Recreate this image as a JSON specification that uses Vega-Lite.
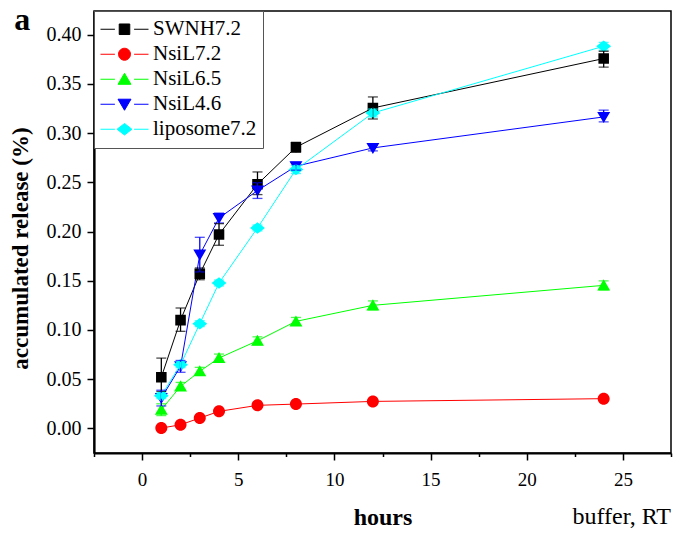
{
  "$schema": "https://vega.github.io/schema/vega-lite/v6.json",
  "width": 577,
  "height": 442,
  "padding": {"top": 3, "left": 9, "right": 4, "bottom": 5},
  "background": "white",
  "config": {
    "font": "Liberation Serif",
    "view": {"stroke": "black", "strokeWidth": 1.5},
    "axis": {"grid": false, "domainColor": "black", "domainWidth": 2.2, "tickColor": "black", "tickWidth": 1.5, "labelColor": "black", "titleColor": "black", "labelFont": "Liberation Serif", "titleFont": "Liberation Serif", "labelFontSize": 19, "titleFontSize": 24, "titleFontWeight": "bold", "labelOverlap": false, "labelFlush": false},
    "legend": {"labelFont": "Liberation Serif", "titleFont": "Liberation Serif", "symbolOpacity": 1}
  },
  "title": {"text": "buffer, RT", "orient": "bottom", "anchor": "end", "frame": "group", "offset": -24, "font": "Liberation Serif", "fontSize": 24, "fontWeight": "normal", "color": "black"},
  "datasets": {
    "release": [
      {"series": "SWNH7.2", "hours": 1, "value": 0.052, "lo": 0.0376, "hi": 0.0714},
      {"series": "SWNH7.2", "hours": 2, "value": 0.110, "lo": 0.0986, "hi": 0.1223},
      {"series": "SWNH7.2", "hours": 3, "value": 0.157, "lo": 0.151, "hi": 0.163},
      {"series": "SWNH7.2", "hours": 4, "value": 0.197, "lo": 0.186, "hi": 0.208},
      {"series": "SWNH7.2", "hours": 6, "value": 0.248, "lo": 0.2375, "hi": 0.2605},
      {"series": "SWNH7.2", "hours": 8, "value": 0.2856, "lo": 0.2806, "hi": 0.2906},
      {"series": "SWNH7.2", "hours": 12, "value": 0.3255, "lo": 0.3143, "hi": 0.3367},
      {"series": "SWNH7.2", "hours": 24, "value": 0.3757, "lo": 0.3669, "hi": 0.3831},
      {"series": "NsiL7.2", "hours": 1, "value": 0.0003, "lo": -0.0017, "hi": 0.0023},
      {"series": "NsiL7.2", "hours": 2, "value": 0.0037, "lo": 0.0017, "hi": 0.0057},
      {"series": "NsiL7.2", "hours": 3, "value": 0.0105, "lo": 0.0085, "hi": 0.0125},
      {"series": "NsiL7.2", "hours": 4, "value": 0.0173, "lo": 0.0153, "hi": 0.0193},
      {"series": "NsiL7.2", "hours": 6, "value": 0.0234, "lo": 0.0214, "hi": 0.0254},
      {"series": "NsiL7.2", "hours": 8, "value": 0.0247, "lo": 0.0227, "hi": 0.0267},
      {"series": "NsiL7.2", "hours": 12, "value": 0.0274, "lo": 0.0254, "hi": 0.0294},
      {"series": "NsiL7.2", "hours": 24, "value": 0.0302, "lo": 0.0282, "hi": 0.0322},
      {"series": "NsiL6.5", "hours": 1, "value": 0.019, "lo": 0.013, "hi": 0.025},
      {"series": "NsiL6.5", "hours": 2, "value": 0.0427, "lo": 0.0387, "hi": 0.0467},
      {"series": "NsiL6.5", "hours": 3, "value": 0.058, "lo": 0.054, "hi": 0.062},
      {"series": "NsiL6.5", "hours": 4, "value": 0.0715, "lo": 0.0675, "hi": 0.0755},
      {"series": "NsiL6.5", "hours": 6, "value": 0.089, "lo": 0.085, "hi": 0.093},
      {"series": "NsiL6.5", "hours": 8, "value": 0.1087, "lo": 0.1047, "hi": 0.1127},
      {"series": "NsiL6.5", "hours": 12, "value": 0.125, "lo": 0.1205, "hi": 0.1295},
      {"series": "NsiL6.5", "hours": 24, "value": 0.1453, "lo": 0.1408, "hi": 0.1498},
      {"series": "NsiL4.6", "hours": 1, "value": 0.0308, "lo": 0.0228, "hi": 0.0388},
      {"series": "NsiL4.6", "hours": 2, "value": 0.063, "lo": 0.057, "hi": 0.069},
      {"series": "NsiL4.6", "hours": 3, "value": 0.1765, "lo": 0.1589, "hi": 0.1941},
      {"series": "NsiL4.6", "hours": 4, "value": 0.2137, "lo": 0.2087, "hi": 0.2187},
      {"series": "NsiL4.6", "hours": 6, "value": 0.2416, "lo": 0.2336, "hi": 0.2496},
      {"series": "NsiL4.6", "hours": 8, "value": 0.2663, "lo": 0.2623, "hi": 0.2703},
      {"series": "NsiL4.6", "hours": 12, "value": 0.2849, "lo": 0.2819, "hi": 0.2879},
      {"series": "NsiL4.6", "hours": 24, "value": 0.3164, "lo": 0.3114, "hi": 0.3234},
      {"series": "liposome7.2", "hours": 1, "value": 0.0332, "lo": 0.0302, "hi": 0.0362},
      {"series": "liposome7.2", "hours": 2, "value": 0.0647, "lo": 0.0617, "hi": 0.0677},
      {"series": "liposome7.2", "hours": 3, "value": 0.1064, "lo": 0.1034, "hi": 0.1094},
      {"series": "liposome7.2", "hours": 4, "value": 0.1477, "lo": 0.1447, "hi": 0.1507},
      {"series": "liposome7.2", "hours": 6, "value": 0.2036, "lo": 0.2006, "hi": 0.2066},
      {"series": "liposome7.2", "hours": 8, "value": 0.2629, "lo": 0.2589, "hi": 0.2669},
      {"series": "liposome7.2", "hours": 12, "value": 0.3204, "lo": 0.3164, "hi": 0.3244},
      {"series": "liposome7.2", "hours": 24, "value": 0.3882, "lo": 0.3842, "hi": 0.3922}
    ]
  },
  "data": {"name": "release"},
  "layer": [
    {
      "mark": {"type": "line", "strokeWidth": 1, "clip": true},
      "encoding": {
        "x": {"field": "hours", "type": "quantitative", "title": "hours",
          "scale": {"domain": [-2.5, 27.5], "nice": false, "zero": false},
          "axis": {"values": [-2.5, 0, 2.5, 5, 7.5, 10, 12.5, 15, 17.5, 20, 22.5, 25, 27.5],
            "labelExpr": "datum.value % 5 === 0 ? datum.label : ''",
            "tickSize": {"condition": {"test": "datum.value % 5 === 0", "value": 7}, "value": 3.5},
            "labelFont": "Liberation Serif", "titleFont": "Liberation Serif", "labelFontSize": 19, "titleFontSize": 24,
            "labelPadding": 10, "titlePadding": 16}},
        "y": {"field": "value", "type": "quantitative", "title": "accumulated release (%)",
          "scale": {"domain": [-0.025, 0.424], "nice": false, "zero": false},
          "axis": {"values": [0, 0.025, 0.05, 0.075, 0.1, 0.125, 0.15, 0.175, 0.2, 0.225, 0.25, 0.275, 0.3, 0.325, 0.35, 0.375, 0.4],
            "labelExpr": "round(datum.value*1000) % 50 === 0 ? format(datum.value, '.2f') : ''",
            "tickSize": {"condition": {"test": "round(datum.value*1000) % 50 === 0", "value": 7}, "value": 3.5},
            "labelFont": "Liberation Serif", "titleFont": "Liberation Serif", "labelFontSize": 20, "titleFontSize": 23,
            "labelPadding": 6, "titlePadding": 14, "titleAnchor": "middle", "titleY": 237}},
        "color": {"field": "series", "type": "nominal",
          "scale": {"domain": ["SWNH7.2", "NsiL7.2", "NsiL6.5", "NsiL4.6", "liposome7.2"], "range": ["#000000", "#ff0000", "#00ff00", "#0000ff", "#00ffff"]}},
        "order": {"field": "hours", "type": "quantitative"}
      }
    },
    {
      "mark": {"type": "point", "filled": true, "opacity": 1, "fillOpacity": 1, "strokeOpacity": 1, "size": 2304},
      "encoding": {
        "x": {"field": "hours", "type": "quantitative", "title": "hours"},
        "y": {"field": "value", "type": "quantitative", "title": "accumulated release (%)"},
        "strokeWidth": {"value": 0},
        "color": {"field": "series", "type": "nominal",
          "legend": {"title": null, "orient": "top-left", "offset": 0, "padding": 6, "fillColor": "white", "strokeColor": "#555555", "cornerRadius": 0,
            "symbolSize": 2304, "symbolStrokeWidth": 1, "symbolOpacity": 1, "clipHeight": 24.5, "rowPadding": 0, "labelOffset": 4,
            "labelFont": "Liberation Serif", "labelFontSize": 21, "labelColor": "black", "labelLimit": 300}},
        "stroke": {"field": "series", "type": "nominal",
          "scale": {"domain": ["SWNH7.2", "NsiL7.2", "NsiL6.5", "NsiL4.6", "liposome7.2"], "range": ["#000000", "#ff0000", "#00ff00", "#0000ff", "#00ffff"]}},
        "shape": {"field": "series", "type": "nominal",
          "scale": {"domain": ["SWNH7.2", "NsiL7.2", "NsiL6.5", "NsiL4.6", "liposome7.2"],
            "range": [
              "M-1,0H-0.4M0.4,0H1M-0.22,-0.22H0.22V0.22H-0.22Z",
              "M-1,0H-0.4M0.4,0H1M-0.25,0A0.25,0.25,0,1,0,0.25,0A0.25,0.25,0,1,0,-0.25,0Z",
              "M-1,0H-0.4M0.4,0H1M0,-0.25L0.27,0.21H-0.27Z",
              "M-1,0H-0.4M0.4,0H1M0,0.25L0.27,-0.21H-0.27Z",
              "M-1,0H-0.4M0.4,0H1M0,-0.24L0.31,0L0,0.24L-0.31,0Z"
            ]}}
      }
    },
    {
      "mark": {"type": "errorbar", "ticks": {"size": 10, "thickness": 1.3}, "thickness": 1.3},
      "encoding": {
        "x": {"field": "hours", "type": "quantitative", "title": "hours"},
        "y": {"field": "lo", "type": "quantitative", "title": "accumulated release (%)"},
        "y2": {"field": "hi"},
        "color": {"field": "series", "type": "nominal"}
      }
    },
    {
      "data": {"values": [{"label": "a"}]},
      "mark": {"type": "text", "font": "Liberation Serif", "fontSize": 32, "fontWeight": "bold", "align": "center", "baseline": "alphabetic", "color": "black"},
      "encoding": {
        "x": {"datum": -6.23},
        "y": {"datum": 0.4051},
        "text": {"field": "label", "type": "nominal"}
      }
    }
  ]
}
